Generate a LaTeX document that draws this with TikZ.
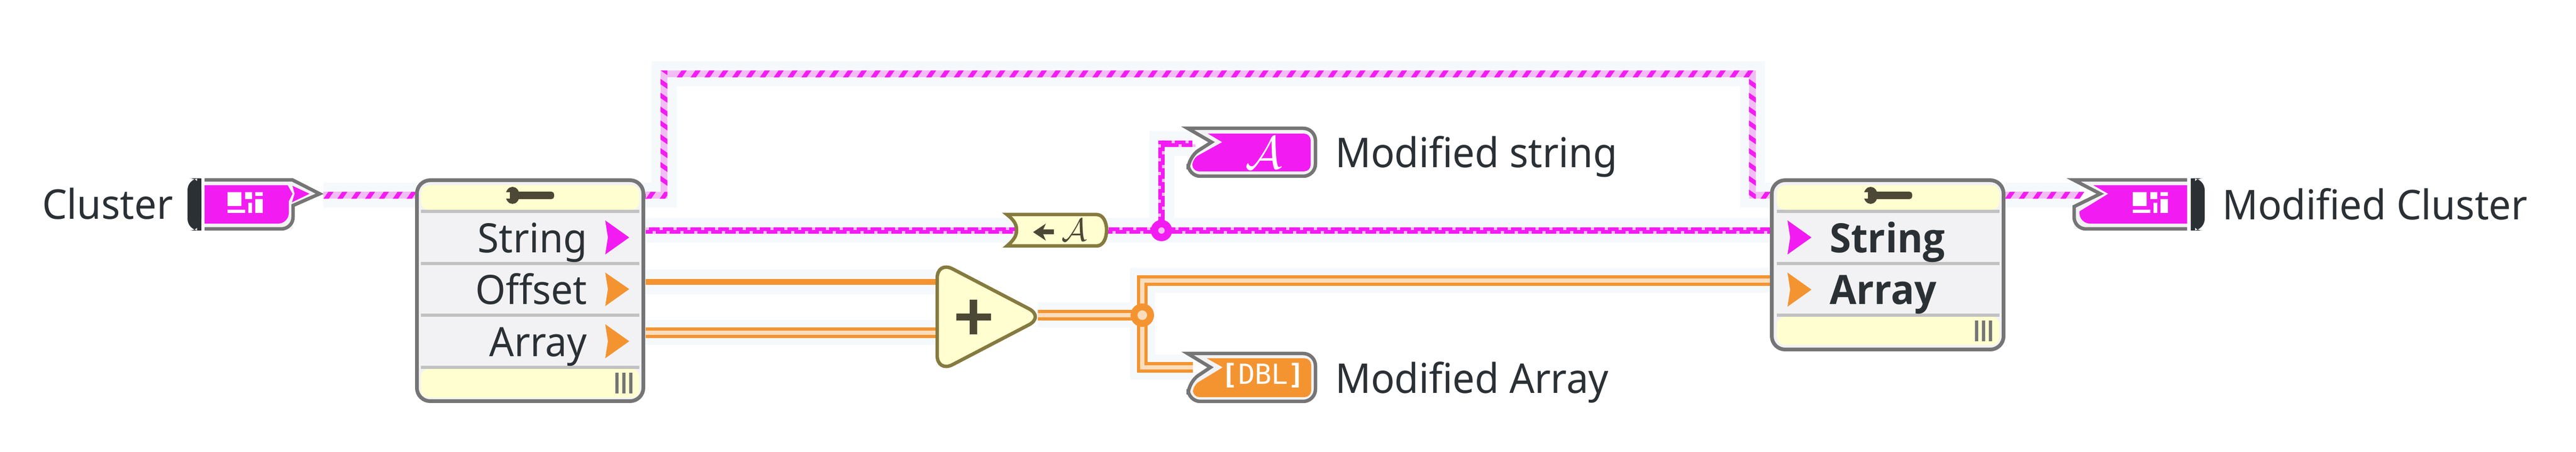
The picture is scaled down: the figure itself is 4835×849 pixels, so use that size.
\documentclass[tikz,border=0pt]{standalone}
\usepackage{fontspec}
\setmainfont{Noto Sans}[FakeStretch=0.96]
\newfontfamily\boldrowfont{Open Sans}[FakeStretch=0.96]
\newfontfamily\dejafont{DejaVu Sans Mono}
\usetikzlibrary{decorations.markings,backgrounds}
\definecolor{wmag}{HTML}{F21CF2}
\definecolor{wpale}{HTML}{F2BDF4}
\definecolor{worg}{HTML}{F49431}
\definecolor{wpeach}{HTML}{FBDDBD}
\definecolor{halo}{HTML}{F6F9FB}
\definecolor{graybd}{HTML}{757575}
\definecolor{inkc}{HTML}{2B3034}
\definecolor{yell}{HTML}{FFFED0}
\definecolor{rowc}{HTML}{F2F2F4}
\definecolor{sepc}{HTML}{C2C2C2}
\definecolor{olive}{HTML}{857A3F}
\definecolor{darkol}{HTML}{4B4935}
\tikzset{
  haloline/.style={draw=halo,line width=9.4pt},
  hatchwire/.style={draw=wpale,line width=2.6pt,postaction={decorate,decoration={markings,
     mark=between positions 0 and 1 step 5.2pt with {\fill[wmag] (0,6.5)--(10,6.5)--(19,-6.5)--(9,-6.5)--cycle;}}}},
  crenwire/.style={draw=wmag,line width=2.5pt,postaction={decorate,decoration={markings,
     mark=between positions 0 and 1 step 5.2pt with {\fill[wpale] (0,-6)rectangle(6,-1);\fill[wpale] (13,1)rectangle(19,6);}}}},
  solidorange/.style={draw=worg,line width=2.2pt},
  dblorange/.style={draw=worg,line width=4pt,postaction={draw=wpeach,line width=1.5pt}},
  labeltext/.style={inner sep=0pt,text=inkc,font=\fontsize{15.4}{18}\selectfont},
  rowtext/.style={inner sep=0pt,text=inkc,font=\fontsize{15.2}{18}\selectfont,anchor=base east},
  boldrow/.style={inner sep=0pt,text=inkc,font=\boldrowfont\fontsize{15.2}{18}\selectfont\bfseries,anchor=base west},
  bodybox/.style={draw=graybd,line width=1.4pt,fill=rowc,rounded corners=5pt,inner sep=0pt},
  termline/.style={draw=graybd,line width=1.3pt,line join=miter},
  nodeline/.style={draw=olive,line width=1.3pt,fill=yell},
}
\newcommand\wrenchicon[1]{%
  \begin{scope}[shift={(#1,367)}]
    \fill[darkol] (13,0) ellipse [x radius=13,y radius=16];
    \fill[yell] (-1,-6) rectangle (8,6);
    \fill[darkol,rounded corners=1pt] (13,-7) rectangle (91,7);
  \end{scope}}
\newcommand\clustericon[1]{%
  \begin{scope}[shift={(#1,0)}]
    \fill[white] (0,361) rectangle (26,387) (0,394) rectangle (33,400)
      (33,361) rectangle (46,374) (39,381) rectangle (46,400)
      (52,361) rectangle (66,368) (52,374) rectangle (66,400);
  \end{scope}}
\newcommand\footbars[2]{%
  \foreach \b in {0,1,2}{\fill[graybd] (#1+13*\b,#2) rectangle (#1+13*\b+6,#2+39);}}
\begin{document}
\begin{tikzpicture}[x=0.2pt,y=-0.2pt]
\useasboundingbox (0,0) rectangle (4835,849);
% ---- bodies
\node[bodybox,minimum width=85pt,minimum height=83pt] (bodyA) at (995,546) {};
\fill[yell,rounded corners=3pt] (790,394) -- (790,348) -- (1200,348) -- (1200,394) -- cycle;
\fill[yell,rounded corners=3pt] (790,693) -- (790,747) -- (1200,747) -- (1200,693) -- cycle;
\foreach \yy in {394,492,589,687}{\fill[sepc] (790,\yy) rectangle (1200,\yy+6);}
\wrenchicon{949}
\footbars{1155}{700}
\node[rowtext] (lblStrA) at (1103,475) {String};
\node[rowtext] (lblOffA) at (1103,572) {Offset};
\node[rowtext] (lblArrA) at (1103,670) {Array};
\fill[wmag] (1136,414) -- (1181,446) -- (1136,478) -- (1141,446) -- cycle;
\fill[worg] (1136,512) -- (1181,543) -- (1136,575) -- (1141,543) -- cycle;
\fill[worg] (1136,609) -- (1181,641) -- (1136,673) -- (1141,641) -- cycle;
\node[bodybox,minimum width=87pt,minimum height=63.6pt] (bodyB) at (3543,497.5) {};
\fill[yell,rounded corners=3pt] (3335,394) -- (3335,348) -- (3753,348) -- (3753,394) -- cycle;
\fill[yell,rounded corners=3pt] (3335,595) -- (3335,648) -- (3753,648) -- (3753,595) -- cycle;
\foreach \yy in {394,492,589}{\fill[sepc] (3335,\yy) rectangle (3753,\yy+6);}
\wrenchicon{3498}
\footbars{3707}{602}
\node[boldrow] (lblStrB) at (3433,475) {String};
\node[boldrow] (lblArrB) at (3433,572) {Array};
\fill[wmag] (3355,414) -- (3400,446) -- (3355,478) -- (3360,446) -- cycle;
\fill[worg] (3355,512) -- (3400,544) -- (3355,576) -- (3360,544) -- cycle;
% ---- cluster control (left)
\fill[inkc,rounded corners=4.4pt] (378,335) -- (352,335) -- (352,433) -- (378,433) -- cycle;
\fill[inkc] (370,335) rectangle (378,433);
\fill[rowc] (384,338) -- (549,338) -- (600,364) -- (550,386) -- (550,430) -- (384,430) -- cycle;
\draw[termline] (384,338) -- (549,338) -- (600,364) -- (550,386) [rounded corners=4.4pt] -- (550,430) [sharp corners] -- (384,430);
\fill[wmag] (384,348) -- (540,348) -- (549,364) -- (542,378) [rounded corners=4pt] -- (542,420) [sharp corners] -- (384,420) -- cycle;
\fill[wmag] (549,349) -- (581,364) -- (548,380) -- (553,364) -- cycle;
\clustericon{427}
% ---- cluster indicator (right)
\fill[inkc,rounded corners=4.4pt] (4112,335) -- (4138,335) -- (4138,433) -- (4112,433) -- cycle;
\fill[inkc] (4112,335) rectangle (4120,433);
\fill[rowc] (4105,338) -- (3892,338) -- (3942,364) -- (3893,388) -- (3893,430) -- (4105,430) -- cycle;
\draw[termline] (4105,338) -- (3892,338) -- (3942,364) -- (3893,388) [rounded corners=4.4pt] -- (3893,430) [sharp corners] -- (4105,430);
\fill[wmag] (4105,348) -- (3929,348) -- (3957,364) -- (3903,397) [rounded corners=4pt] -- (3903,420) [sharp corners] -- (4105,420) -- cycle;
\clustericon{4003}
% ---- string indicator
\draw[termline,fill=rowc] (2229,241) -- (2300,241) [rounded corners=4.6pt] -- (2469,241) -- (2469,331) -- (2230,331) -- (2230,295) [sharp corners] -- (2274,267) -- cycle;
\fill[wmag] (2267,251) -- (2300,251) [rounded corners=2.5pt] -- (2460,251) -- (2460,322) -- (2238,322) -- (2238,298) [sharp corners] -- (2294,267) -- cycle;
\node[inner sep=0pt,text=white,font=\fontsize{17}{20}\selectfont] (glyphA) at (2372,287) {$\mathcal{A}$};
% ---- array indicator
\draw[termline,fill=rowc] (2229,664) -- (2300,664) [rounded corners=4.6pt] -- (2469,664) -- (2469,754) -- (2230,754) -- (2230,718) [sharp corners] -- (2272,690) -- cycle;
\fill[worg] (2265,673) -- (2300,673) [rounded corners=2.5pt] -- (2461,673) -- (2461,746) -- (2239,746) -- (2239,724) [sharp corners] -- (2295,690) -- cycle;
\node[inner sep=0pt,text=white,font=\dejafont\fontsize{10.4}{13}\selectfont] (glyphDBL) at (2371,705) {\bfseries[\mdseries DBL\bfseries]};
% ---- unbundle
\draw[nodeline] (1890,403) -- (2058,403) .. controls (2071,403) and (2077,418) .. (2077,432) .. controls (2077,447) and (2071,462) .. (2058,462) -- (1890,462) .. controls (1904,450) and (1908,442) .. (1908,432) .. controls (1908,422) and (1904,414) .. (1890,403) -- cycle;
\fill[darkol] (1939,436) -- (1963,420) -- (1958,431) -- (1978,431) -- (1978,440) -- (1958,440) -- (1963,452) -- cycle;
\node[inner sep=0pt,text=darkol,font=\fontsize{12.5}{15}\selectfont] (glyphB) at (2016,432) {$\mathcal{A}$};
% ---- add
\draw[nodeline,rounded corners=6.5pt] (1759,490) -- (1960,595) -- (1759,700) -- cycle;
\fill[darkol] (1820,563) rectangle (1834,628) (1795,589) rectangle (1860,602);
% ---- labels
\node[labeltext,anchor=base west] (lblCluster) at (78,412) {Cluster};
\node[labeltext,anchor=base west] (lblModStr) at (2505,315) {Modified string};
\node[labeltext,anchor=base west] (lblModArr) at (2505,739) {Modified Array};
\node[labeltext,anchor=base west] (lblModCl) at (4170,413) {Modified Cluster};
% ---- connector ends
\coordinate (cOut) at (607,367);
\coordinate (aTop) at (1212,367);
\coordinate (aStr) at (1212,433);
\coordinate (aOff) at (1212,530);
\coordinate (aArr) at (1212,625);
\coordinate (tr1) at (1246,367);
\coordinate (tr2) at (1246,139);
\coordinate (tr3) at (3289,139);
\coordinate (tr4) at (3289,367);
\coordinate (bTop) at (3323,367);
\coordinate (bStr) at (3323,433);
\coordinate (bArr) at (3323,527);
\coordinate (bOut) at (3763,367);
\coordinate (clIn) at (3903,367);
\coordinate (ubIn) at (1906,433);
\coordinate (ubOut) at (2075,433);
\coordinate (jStr) at (2180,433);
\coordinate (strBend) at (2180,270);
\coordinate (strIn) at (2238,270);
\coordinate (addA) at (1758,530);
\coordinate (addB) at (1758,625);
\coordinate (addOut) at (1948,592);
\coordinate (jArr) at (2144,592);
\coordinate (arrIn) at (2239,690);
% ---- wires
\begin{pgfonlayer}{background}
\fill[white] (0,0) rectangle (4835,849);
\draw[haloline] (cOut) -- (aTop);
\draw[haloline] (aTop) -- (tr1) -- (tr2) -- (tr3) -- (tr4) -- (bTop);
\draw[haloline] (bOut) -- (clIn);
\draw[haloline] (aStr) -- (bStr);
\draw[haloline] (jStr) -- (strBend) -- (strIn);
\draw[haloline] (aOff) -- (addA);
\draw[haloline] (aArr) -- (addB);
\draw[haloline] (addOut) -- (jArr);
\draw[haloline] (jArr) |- (bArr);
\draw[haloline] (jArr) |- (arrIn);
\draw[hatchwire] (cOut) -- (aTop);
\begin{scope}
  \clip (1200,360.5) rectangle (1252.5,373.5) (1239.5,132.5) rectangle (1252.5,373.5)
        (1239.5,132.5) rectangle (3295.5,145.5) (3282.5,132.5) rectangle (3295.5,373.5)
        (3282.5,360.5) rectangle (3330,373.5);
  \draw[hatchwire] (aTop) -- (tr1) -- (tr2) -- (tr3) -- (tr4) -- (bTop);
\end{scope}
\draw[hatchwire] (bOut) -- (clIn);
\draw[crenwire] (aStr) -- (ubIn);
\draw[crenwire] (ubOut) -- (jStr);
\draw[crenwire] (jStr) -- (bStr);
\begin{scope}
  \clip (2173.5,263.5) rectangle (2186.5,433) (2173.5,263.5) rectangle (2245,276.5);
  \draw[crenwire] (jStr) -- (strBend) -- (strIn);
\end{scope}
\draw[solidorange] (aOff) -- (addA);
\draw[dblorange] (aArr) -- (addB);
\draw[dblorange] (addOut) -- (jArr);
\draw[dblorange] (jArr) |- (bArr);
\draw[dblorange] (jArr) |- (arrIn);
\fill[wmag] (jStr) circle [radius=20];
\fill[wpale] (jStr) circle [radius=6];
\fill[worg] (jArr) circle [radius=22];
\fill[wpeach] (jArr) circle [radius=9];
\end{pgfonlayer}
\end{tikzpicture}
\end{document}
